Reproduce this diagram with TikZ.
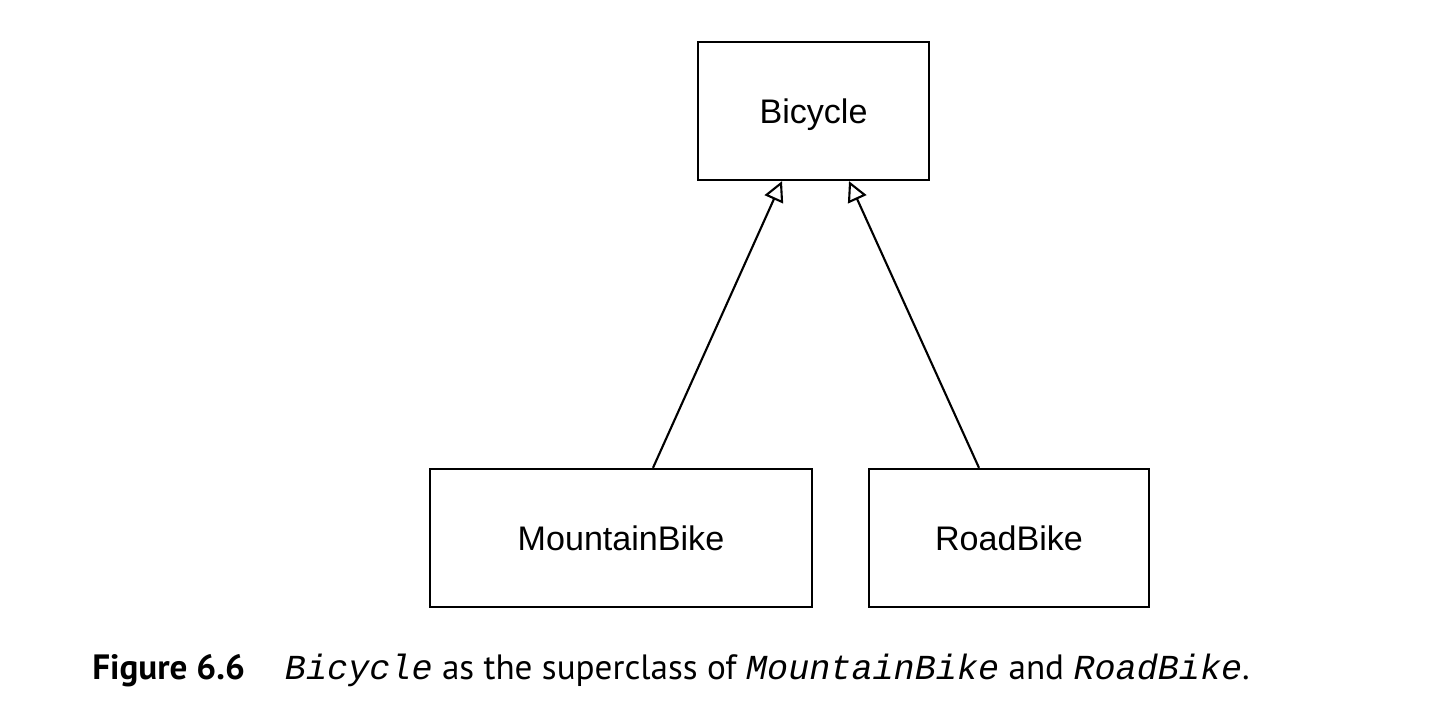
\documentclass[tikz,border=0pt]{standalone}
\usepackage{fontspec}
\setmainfont{Liberation Sans}
\newfontfamily\capfont{PT Sans}
\newfontfamily\codefont{Liberation Mono}
\usetikzlibrary{arrows.meta,positioning}

\begin{document}
\begin{tikzpicture}[
  every node/.style={font=\fontsize{19.4pt}{23pt}\selectfont},
  classbox/.style={draw,line width=1.3pt,minimum height=2.76cm,inner sep=0pt,
    text height=0.6cm,text depth=0.1cm},
  inherit/.style={-{Triangle[open,length=0.4cm,width=0.4cm]},line width=1.2pt},
]
  \useasboundingbox (0,0) rectangle (29.12,14.44);

  % Superclass
  \node[classbox,minimum width=4.62cm] (bicycle) at (16.27,12.22) {Bicycle};

  % Subclasses
  \node[classbox,minimum width=7.64cm] (mountain) at (12.42,3.68) {MountainBike};
  \node[classbox,minimum width=5.6cm] (road) at (20.18,3.68) {RoadBike};

  % Generalization arrows
  \draw[inherit] ([xshift=0.64cm]mountain.north) -- ([xshift=-0.63cm]bicycle.south);
  \draw[inherit] ([xshift=-0.6cm]road.north) -- ([xshift=0.71cm]bicycle.south);

  % Caption
  \node[anchor=base west,inner sep=0pt,font=\fontsize{20pt}{24pt}\capfont] (caption) at (1.84,0.84)
    {\textbf{Figure 6.6}\hspace{0.8cm}{\codefont\itshape Bicycle} as the superclass of {\codefont\itshape MountainBike} and {\codefont\itshape RoadBike}.};
\end{tikzpicture}
\end{document}
